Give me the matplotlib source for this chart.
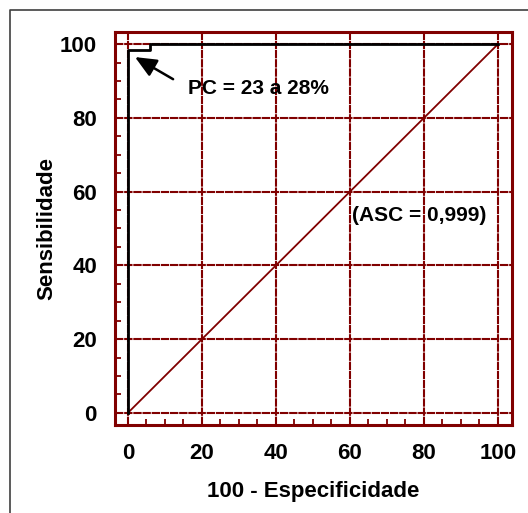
import numpy as np
import matplotlib.pyplot as plt
from matplotlib.lines import Line2D

# ROC curve points (100 - especificidade, sensibilidade)
roc_x = [0, 0, 6, 6, 100]
roc_y = [0, 98.5, 98.5, 100, 100]
ref_x = [0, 100]
ref_y = [0, 100]
ticks = [0, 20, 40, 60, 80, 100]

red = '#800000'
plt.rcParams['font.family'] = 'Liberation Sans'
plt.rcParams['font.weight'] = 'bold'

fig = plt.figure(figsize=(5.28, 5.13), dpi=100)
ax = fig.add_axes([115 / 528, 88 / 513, 397 / 528, 393 / 513])

# grid at the major ticks, dark red and finely broken
for t in ticks:
    ax.axvline(t, color=red, lw=1.5, ls=(0, (4, 0.4)), zorder=1)
    ax.axhline(t, color=red, lw=1.5, ls=(0, (4, 0.4)), zorder=1)

ax.plot(ref_x, ref_y, color=red, lw=1.3, zorder=2)
ax.plot(roc_x, roc_y, color='black', lw=2.0, zorder=3)

ax.set_xlim(-3.5, 103.8)
ax.set_ylim(-3.3, 103.3)
ax.set_xticks(ticks)
ax.set_yticks(ticks)
ax.set_xticks(np.arange(0, 101, 5), minor=True)
ax.set_yticks(np.arange(0, 101, 5), minor=True)
ax.tick_params(which='major', length=0, pad=13, labelsize=16)
ax.tick_params(which='minor', direction='in', length=4, width=1.3, color=red)
for s in ax.spines.values():
    s.set_color(red)
    s.set_linewidth(2.2)

ax.set_xlabel('100 - Especificidade', fontsize=16, fontweight='bold', labelpad=12)
ax.set_ylabel('Sensibilidade', fontsize=16, fontweight='bold', labelpad=2)

ax.annotate('', xy=(1.9, 96.5), xytext=(12.2, 90.5),
            arrowprops=dict(arrowstyle='-|>,head_length=0.5,head_width=0.22',
                            color='black', lw=1.8,
                            mutation_scale=26, shrinkA=0, shrinkB=0))
ax.text(16.2, 88.1, 'PC = 23 a 28%', fontsize=15, fontweight='bold',
        va='center', ha='left')
ax.text(60.5, 53.4, '(ASC = 0,999)', fontsize=15, fontweight='bold',
        va='center', ha='left')

# frame around the figure (top and left edges)
fx = 10 / 528
fy = 1 - 10 / 513
fig.add_artist(Line2D([fx, fx, 1.0], [0.0, fy, fy], transform=fig.transFigure,
                      color='#404040', lw=1.2))

fig.savefig('out.png', dpi=100)
